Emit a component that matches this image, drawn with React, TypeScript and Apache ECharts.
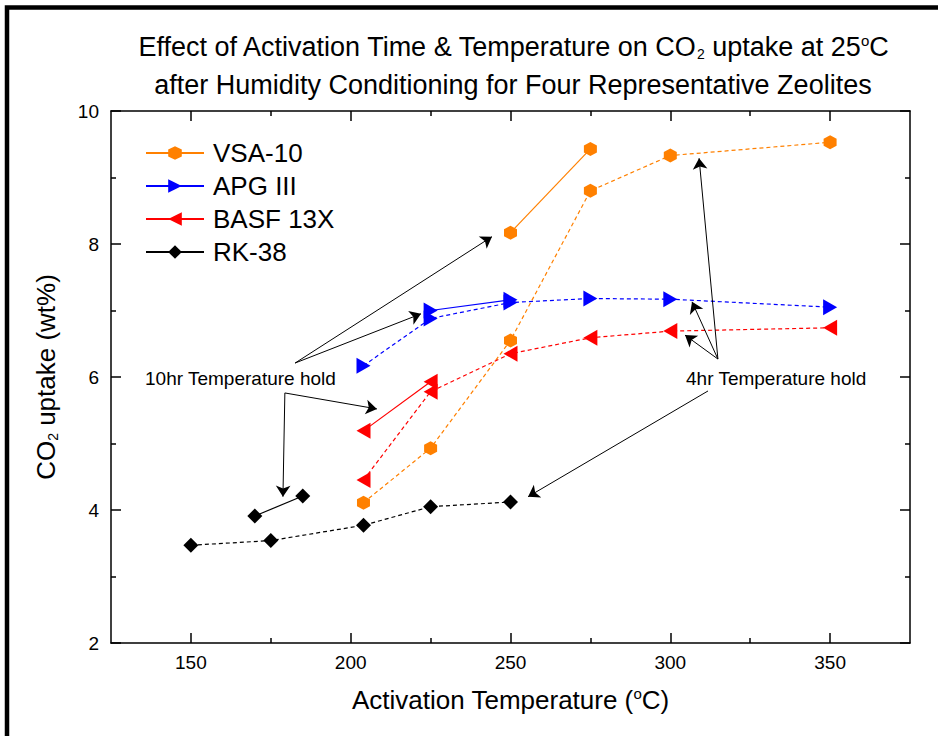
import React, { useEffect, useRef } from 'react';
import * as echarts from 'echarts';

// ---------- data ----------
const zeolites = ['VSA-10', 'APG III', 'BASF 13X', 'RK-38'];
const colors = ['#FF8000', '#0000FF', '#FF0000', '#000000'];

// 10 hr temperature hold (solid lines)
const vsa10hrX = [250, 275];
const vsa10hrY = [8.17, 9.43];
const apg10hrX = [225, 250];
const apg10hrY = [7.0, 7.16];
const basf10hrX = [204, 225];
const basf10hrY = [5.19, 5.93];
const rk10hrX = [170, 185];
const rk10hrY = [3.91, 4.21];

// 4 hr temperature hold (dashed lines)
const temps4hr = [204, 225, 250, 275, 300, 350];
const vsa4hrY = [4.11, 4.93, 6.55, 8.8, 9.33, 9.53];
const apg4hrY = [6.17, 6.88, 7.12, 7.18, 7.17, 7.05];
const basf4hrY = [4.45, 5.78, 6.35, 6.59, 6.69, 6.74];
const rk4hrX = [150, 175, 204, 225, 250];
const rk4hrY = [3.47, 3.54, 3.77, 4.05, 4.12];

// axes
const xMin = 125;
const xMax = 375;
const xMajorTicks = [150, 200, 250, 300, 350];
const xMinorTicks = [175, 225, 275, 325];
const yMin = 2;
const yMax = 10;
const yInterval = 2;

// annotation arrows (data coordinates: [from, to])
const arrows10hr = [
  [[182.6, 6.21], [244.2, 8.11]],
  [[182.6, 6.21], [222.0, 6.95]],
  [[179.4, 5.76], [178.8, 4.2]],
  [[179.4, 5.76], [208.2, 5.52]],
];
const arrows4hr = [
  [[314.9, 6.27], [309.0, 9.29]],
  [[314.9, 6.27], [306.8, 7.13]],
  [[314.9, 6.27], [304.6, 6.63]],
  [[311.8, 5.79], [255.5, 4.2]],
];

const FONT = '"Liberation Sans", Arial, Helvetica, sans-serif';

const hexagon = 'path://M0,-10L8.66,-5L8.66,5L0,10L-8.66,5L-8.66,-5Z';

const markerDefs = [
  { symbol: hexagon, rotate: 0, size: [13, 14] },
  { symbol: 'triangle', rotate: -90, size: [16, 14] },
  { symbol: 'triangle', rotate: 90, size: [16, 14] },
  { symbol: 'diamond', rotate: 0, size: [15, 15] },
];

function zip(xs: number[], ys: number[]) {
  return xs.map((x, i) => [x, ys[i]]);
}

function makeSeries(idx: number, xs: number[], ys: number[], dashed: boolean) {
  const m = markerDefs[idx];
  return {
    type: 'line',
    name: zeolites[idx],
    data: zip(xs, ys),
    symbol: m.symbol,
    symbolRotate: m.rotate,
    symbolSize: m.size,
    xAxisIndex: 0,
    yAxisIndex: 0,
    z: dashed ? 2 : 3,
    itemStyle: { color: colors[idx], opacity: 1 },
    lineStyle: { color: colors[idx], width: 1.2, type: dashed ? [4, 3] : 'solid' },
    emphasis: { disabled: true },
  };
}

const richTokens = {
  sub: { fontSize: 14, lineHeight: 14, verticalAlign: 'bottom', padding: [0, 0, 5, 0], fontFamily: FONT, color: '#000' },
  sup: { fontSize: 15, lineHeight: 15, verticalAlign: 'top', padding: [5, 0, 0, 0], fontFamily: FONT, color: '#000' },
};

const axisLineStyle = { color: '#000', width: 1.5 };

export default function App() {
  const ref = useRef<HTMLDivElement>(null);

  useEffect(() => {
    if (!ref.current) return;
    const chart = echarts.init(ref.current, null, { renderer: 'svg' });

    const xBase = {
      type: 'value',
      min: xMin,
      max: xMax,
      gridIndex: 0,
      splitLine: { show: false },
      axisLine: { show: true, onZero: false, lineStyle: axisLineStyle },
    };
    const majorTick = { show: true, inside: true, length: 10, customValues: xMajorTicks, lineStyle: axisLineStyle };
    const minorTick = { show: true, inside: true, length: 5, customValues: xMinorTicks, lineStyle: axisLineStyle };

    const yBase = {
      type: 'value',
      min: yMin,
      max: yMax,
      interval: yInterval,
      gridIndex: 0,
      splitLine: { show: false },
      axisLine: { show: true, onZero: false, lineStyle: axisLineStyle },
      axisTick: { show: true, inside: true, length: 10, lineStyle: axisLineStyle },
      minorTick: { show: true, splitNumber: 2, length: 5, lineStyle: axisLineStyle },
      minorSplitLine: { show: false },
    };

    const arrowData = [...arrows10hr, ...arrows4hr].map(([a, b]) => [{ coord: a }, { coord: b }]);

    const option: any = {
      animation: false,
      textStyle: { fontFamily: FONT, color: '#000' },
      title: {
        text:
          'Effect of Activation Time & Temperature on CO{sub|2} uptake at 25{sup|o}C\nafter Humidity Conditioning for Four Representative Zeolites',
        left: 513,
        top: 28,
        textAlign: 'center',
        padding: 0,
        textStyle: {
          fontSize: 27,
          fontWeight: 'normal',
          fontFamily: FONT,
          color: '#000',
          lineHeight: 38,
          rich: richTokens,
        },
      },
      grid: { left: 111, top: 111, right: 28, bottom: 93, containLabel: false, outerBoundsMode: 'none' },
      legend: {
        data: zeolites,
        orient: 'vertical',
        left: 140,
        top: 135,
        itemWidth: 58,
        itemHeight: 17,
        itemGap: 7,
        selectedMode: false,
        textStyle: { fontSize: 26, color: '#000', fontFamily: FONT, lineHeight: 26, padding: [0, 0, 0, 4] },
      },
      xAxis: [
        {
          ...xBase,
          position: 'bottom',
          axisTick: majorTick,
          axisLabel: { show: true, customValues: xMajorTicks, fontSize: 19, color: '#000', margin: 10, fontFamily: FONT },
          name: 'Activation Temperature ({sup|o}C)',
          nameLocation: 'middle',
          nameGap: 38,
          nameTextStyle: { fontSize: 26, color: '#000', fontFamily: FONT, lineHeight: 38, rich: richTokens },
        },
        { ...xBase, position: 'bottom', axisLine: { show: false }, axisTick: minorTick, axisLabel: { show: false } },
        { ...xBase, position: 'top', axisTick: majorTick, axisLabel: { show: false } },
        { ...xBase, position: 'top', axisLine: { show: false }, axisTick: minorTick, axisLabel: { show: false } },
      ],
      yAxis: [
        {
          ...yBase,
          position: 'left',
          axisLabel: { show: true, fontSize: 19, color: '#000', margin: 12, fontFamily: FONT },
          name: 'CO{sub|2} uptake (wt%)',
          nameLocation: 'middle',
          nameRotate: 90,
          nameGap: 46,
          nameTextStyle: { fontSize: 26, color: '#000', fontFamily: FONT, lineHeight: 38, rich: richTokens },
        },
        { ...yBase, position: 'right', axisLabel: { show: false } },
      ],
      graphic: [
        {
          type: 'rect',
          silent: true,
          z: -10,
          shape: { x: 7, y: 7.5, width: 1200, height: 1200 },
          style: { fill: 'none', stroke: '#000', lineWidth: 4.5 },
        },
        {
          type: 'text',
          x: 145,
          y: 378,
          silent: true,
          style: { text: '10hr Temperature hold', fontSize: 19, fontFamily: FONT, fill: '#000', align: 'left', verticalAlign: 'middle' },
        },
        {
          type: 'text',
          x: 686,
          y: 378,
          silent: true,
          style: { text: '4hr Temperature hold', fontSize: 19, fontFamily: FONT, fill: '#000', align: 'left', verticalAlign: 'middle' },
        },
      ],
      series: [
        makeSeries(0, vsa10hrX, vsa10hrY, false),
        makeSeries(1, apg10hrX, apg10hrY, false),
        makeSeries(2, basf10hrX, basf10hrY, false),
        makeSeries(3, rk10hrX, rk10hrY, false),
        makeSeries(0, temps4hr, vsa4hrY, true),
        makeSeries(1, temps4hr, apg4hrY, true),
        makeSeries(2, temps4hr, basf4hrY, true),
        makeSeries(3, rk4hrX, rk4hrY, true),
        {
          type: 'line',
          name: 'annotations',
          data: [],
          silent: true,
          xAxisIndex: 0,
          yAxisIndex: 0,
          markLine: {
            silent: true,
            symbol: ['none', 'arrow'],
            symbolSize: 11,
            precision: 2,
            label: { show: false },
            emphasis: { disabled: true },
            itemStyle: { color: '#000' },
            lineStyle: { color: '#000', width: 1, type: 'solid' },
            data: arrowData,
          },
        },
      ],
    };

    chart.setOption(option);
    return () => chart.dispose();
  }, []);

  return (
    <div
      ref={ref}
      style={{ position: 'absolute', left: 0, top: 0, width: 938, height: 736, background: '#fff' }}
    />
  );
}
